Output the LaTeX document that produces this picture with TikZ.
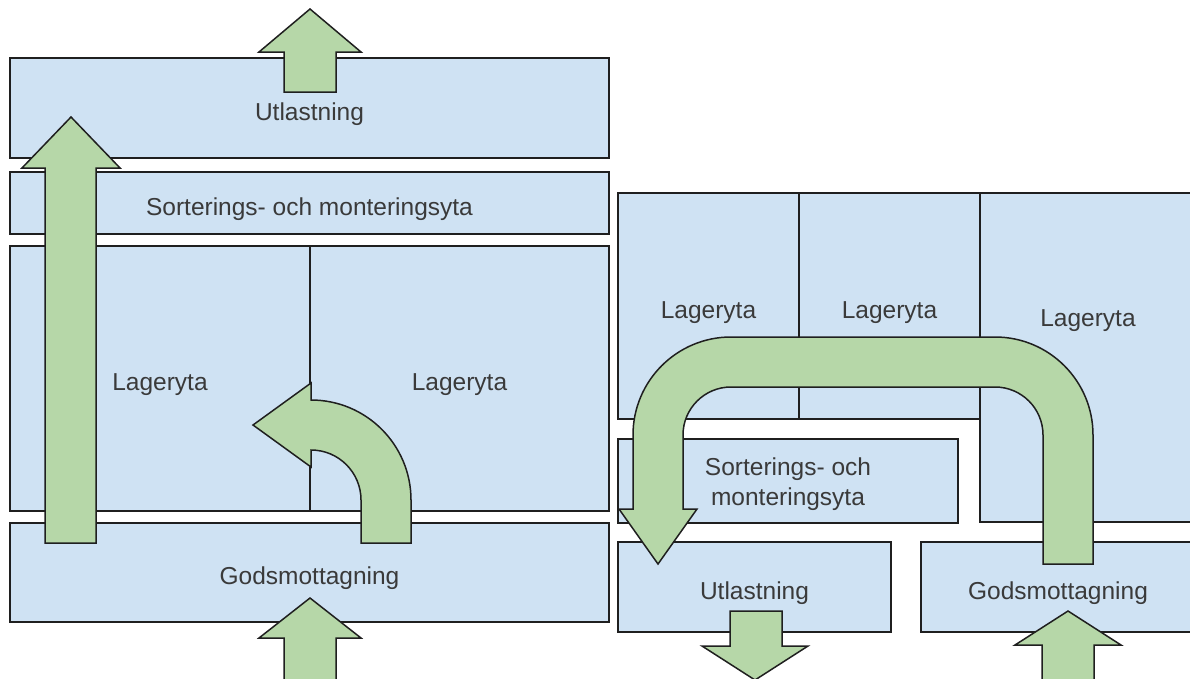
\documentclass[tikz,border=0pt]{standalone}
\usepackage{fontspec}
\setmainfont{Liberation Sans}
\usetikzlibrary{calc}
\definecolor{boxfill}{HTML}{CFE2F3}
\definecolor{arrowfill}{HTML}{B6D7A8}
\definecolor{edge}{HTML}{1F1F1F}
\definecolor{txt}{HTML}{3A3A3A}
\tikzset{
  area/.style={draw=edge, fill=boxfill, line width=1.5pt, rectangle, inner sep=0pt,
    text=txt, font=\fontsize{24.5}{30}\selectfont, align=center, text height=24pt, text depth=0pt},
  area2/.style={draw=edge, fill=boxfill, line width=1.5pt, rectangle, inner sep=0pt,
    text=txt, font=\fontsize{24.5}{30}\selectfont, align=center},
  lbl/.style={text=txt, font=\fontsize{24.5}{30}\selectfont, inner sep=0pt, text height=24pt, text depth=0pt},
  flow/.style={draw=edge, fill=arrowfill, line width=1.5pt, line join=miter}
}
\begin{document}
\begin{tikzpicture}[x=1pt,y=1pt]
\useasboundingbox (0,0) rectangle (1190,-678);
\clip (0,0) rectangle (1190,-678);
% ---------- left plan ----------
\node[area, minimum width=599, minimum height=100] (lutl) at (309.5,-108) {Utlastning};
\node[area, minimum width=599, minimum height=62] (lsort) at (309.5,-203) {Sorterings- och monteringsyta};
\node[area, minimum width=300, minimum height=265] (llag1) at (160,-378.5) {Lageryta};
\node[area, minimum width=299, minimum height=265] (llag2) at (459.5,-378.5) {Lageryta};
\node[area, minimum width=599, minimum height=99] (lgods) at (309.5,-572.5) {Godsmottagning};
% ---------- right plan ----------
\node[area, minimum width=181, minimum height=226] (rlag1) at (708.5,-306) {Lageryta};
\node[area, minimum width=181, minimum height=226] (rlag2) at (889.5,-306) {Lageryta};
\node[area, minimum width=216, minimum height=329] (rlag3) at (1088,-357.5) {};
\node[lbl] (rlag3t) at ($(rlag3.north)+(0,-122)$) {Lageryta};
\node[area2, minimum width=340, minimum height=84] (rsort) at (788,-481) {\raisebox{-9pt}[0pt][0pt]{\parbox{300pt}{\centering Sorterings- och\\monteringsyta}}};
\node[area, minimum width=273, minimum height=90] (rutl) at (754.5,-587) {Utlastning};
\node[area, minimum width=274, minimum height=90] (rgods) at (1058,-587) {Godsmottagning};
% ---------- flow arrows, left ----------
\draw[flow] (284,-92) -- (284,-52) -- (259,-52) -- (310,-9) -- (361,-52) -- (336,-52) -- (336,-92) -- cycle;
\draw[flow] (284,-700) -- (284,-638) -- (259,-638) -- (310,-598) -- (361,-638) -- (336,-638) -- (336,-700) -- cycle;
\draw[flow] (45,-543) -- (45,-168) -- (22,-168) -- (71,-117) -- (120,-168) -- (96,-168) -- (96,-543) -- cycle;
\draw[flow] (411,-543) -- (411,-500) arc (0:90:100) -- (311,-383) -- (253,-425)
  -- (311,-467) -- (311,-450) arc (90:0:50) -- (361,-543) -- cycle;
% ---------- flow arrows, right ----------
\draw[flow] (1093,-564) -- (1093,-435) arc (0:90:98) -- (731,-337) arc (90:180:98)
  -- (633,-509) -- (619,-509) -- (658,-564) -- (697,-509) -- (683,-509)
  -- (683,-435) arc (180:90:48) -- (995,-387) arc (90:0:48) -- (1043,-564) -- cycle;
\draw[flow] (730,-611) -- (730,-646) -- (702,-646) -- (755,-680) -- (808,-646) -- (782,-646) -- (782,-611) -- cycle;
\draw[flow] (1042,-700) -- (1042,-645) -- (1015,-645) -- (1068,-611) -- (1121,-645) -- (1094,-645) -- (1094,-700) -- cycle;
\end{tikzpicture}
\end{document}
